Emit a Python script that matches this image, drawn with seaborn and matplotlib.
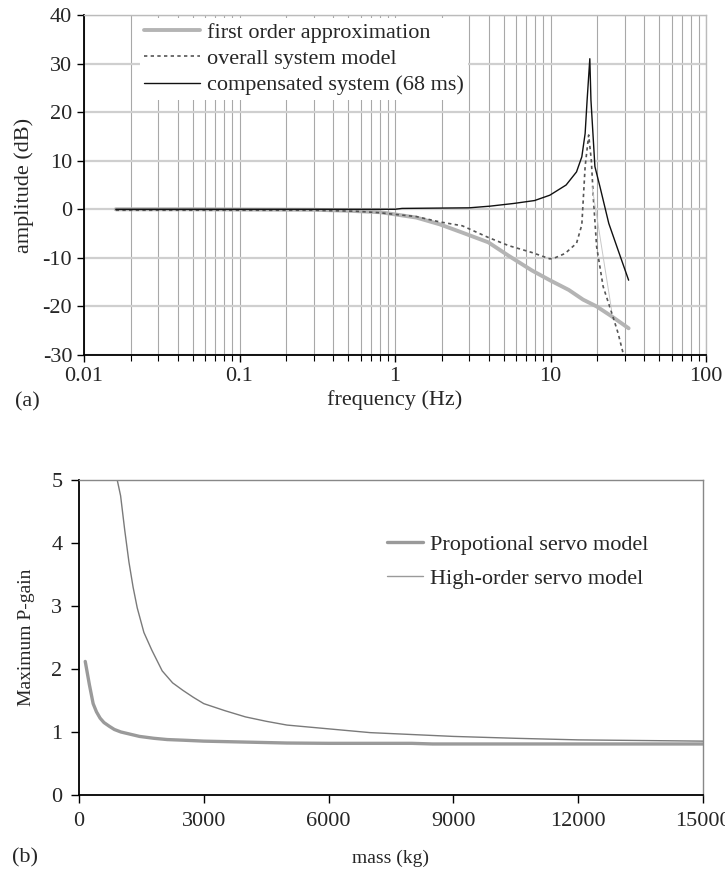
import matplotlib
matplotlib.use("Agg")
import matplotlib.pyplot as plt
import matplotlib.ticker as mticker
import seaborn as sns
import numpy as np

# ---------------- data: (a) frequency response ----------------
freq_first = [0.016, 0.05, 0.1, 0.3, 0.5, 0.8, 1.0, 1.37, 1.94, 2.71, 3.98, 5.4, 7.6,
              9.9, 13.1, 16.2, 19.8, 24.9, 31.8]
amp_first = [0.0, 0.0, -0.05, -0.1, -0.3, -0.6, -1.05, -1.7, -3.1, -4.8, -6.8, -9.6, -12.6,
             -14.6, -16.6, -18.6, -20.0, -22.1, -24.5]

freq_overall = [0.016, 0.1, 0.3, 0.56, 0.79, 1.0, 1.37, 1.94, 2.71, 3.98, 5.4, 7.6, 9.9,
                10.5, 12.4, 14.7, 15.9, 16.7, 17.6, 18.3, 18.9, 19.8, 21.8, 25.2, 27.2, 29.5]
amp_overall = [-0.2, -0.2, -0.2, -0.4, -0.7, -1.05, -1.5, -2.6, -3.4, -5.8, -7.5, -8.9, -10.2,
               -10.1, -9.1, -7.0, -3.2, 8.8, 15.3, 10.1, 1.9, -7.7, -15.9, -22.1, -25.5, -30.0]

freq_comp = [0.016, 0.1, 0.5, 1.0, 1.11, 3.0, 4.1, 5.8, 7.9, 9.9, 12.6, 14.7, 15.9, 16.7,
             17.2, 17.9, 18.2, 19.3, 20.8, 23.7, 27.2, 31.8]
amp_comp = [0.0, 0.0, 0.0, 0.0, 0.18, 0.3, 0.65, 1.2, 1.8, 2.9, 5.0, 7.7, 10.8, 15.6,
            22.5, 31.0, 22.5, 8.8, 4.65, -2.9, -8.4, -14.6]

freq_faint = [18.5, 24.7]
amp_faint = [4.7, -20.7]

freq_ticks = [0.01, 0.1, 1, 10, 100]
freq_ticklabels = ["0.01", "0.1", "1", "10", "100"]
amp_ticks = [-30, -20, -10, 0, 10, 20, 30, 40]

# ---------------- data: (b) maximum P-gain ----------------
mass_prop = [150, 250, 340, 420, 507, 600, 730, 850, 1008, 1200, 1454, 1800, 2122, 2500,
             3000, 4000, 5000, 6000, 8000, 8500, 15000]
gain_prop = [2.12, 1.75, 1.45, 1.32, 1.22, 1.15, 1.09, 1.04, 1.0, 0.97, 0.93, 0.9, 0.88, 0.87,
             0.855, 0.84, 0.825, 0.82, 0.82, 0.81, 0.81]

mass_high = [919, 1000, 1100, 1200, 1300, 1400, 1560, 1750, 2000, 2250, 2500, 2750, 3000,
             3500, 4000, 4500, 5000, 5500, 6000, 7000, 8000, 9000, 10500, 12000, 13500, 15000]
gain_high = [5.0, 4.75, 4.2, 3.7, 3.3, 2.97, 2.58, 2.3, 1.97, 1.78, 1.66, 1.55, 1.45,
             1.34, 1.24, 1.17, 1.11, 1.08, 1.05, 0.99, 0.96, 0.93, 0.9, 0.875, 0.865, 0.855]

mass_ticks = [0, 3000, 6000, 9000, 12000, 15000]
gain_ticks = [0, 1, 2, 3, 4, 5]

# ---------------- style ----------------
sns.set_theme(style="white")
plt.rcParams["font.family"] = ["Liberation Serif", "DejaVu Serif"]
plt.rcParams["axes.unicode_minus"] = False
plt.rcParams["xtick.direction"] = "out"
plt.rcParams["ytick.direction"] = "out"

fig = plt.figure(figsize=(7.25, 8.76), dpi=100)
W, H = 725.0, 876.0

# ---- (a) ----
ax1 = fig.add_axes([84 / W, 1 - 355 / H, (706 - 84) / W, (355 - 15) / H])
ax1.set_xscale("log")
ax1.set_xlim(0.01, 100)
ax1.set_ylim(-30, 40)
ax1.set_yticks(amp_ticks)
ax1.set_xticks(freq_ticks)
ax1.set_xticklabels(freq_ticklabels)
ax1.xaxis.set_minor_locator(mticker.LogLocator(base=10, subs=np.arange(2, 10)))
ax1.xaxis.set_minor_formatter(mticker.NullFormatter())

ax1.grid(True, which="major", axis="y", color="#cfcfcf", lw=1.6, zorder=0)
ax1.grid(True, which="both", axis="x", color="#a8a8a8", lw=0.8, zorder=0)
ax1.set_axisbelow(True)

sns.lineplot(x=freq_first, y=amp_first, ax=ax1, color="#b4b4b4", lw=2.8,
             sort=False, estimator=None, label="first order approximation")
sns.lineplot(x=freq_overall, y=amp_overall, ax=ax1, color="#555555", lw=1.2,
             linestyle=(0, (2, 2)), sort=False, estimator=None, label="overall system model")
sns.lineplot(x=freq_comp, y=amp_comp, ax=ax1, color="#111111", lw=1.0,
             sort=False, estimator=None, label="compensated system (68 ms)")
sns.lineplot(x=freq_faint, y=amp_faint, ax=ax1, color="#c8c8c8", lw=0.7,
             sort=False, estimator=None, legend=False)

for s in ["left", "bottom"]:
    ax1.spines[s].set_color("black")
    ax1.spines[s].set_linewidth(1.3)
for s in ["top", "right"]:
    ax1.spines[s].set_color("#bbbbbb")
    ax1.spines[s].set_linewidth(1.0)
ax1.tick_params(axis="both", which="major", length=5, width=1.0, color="black",
                labelsize=16, bottom=True, left=True)
ax1.tick_params(axis="x", which="minor", length=4, width=0.8, color="black", bottom=True)
ax1.set_xlabel("frequency (Hz)", fontsize=16, labelpad=3)
ax1.set_ylabel("amplitude (dB)", fontsize=16, labelpad=6)

leg1 = ax1.legend(loc="upper left", bbox_to_anchor=(0.09, 0.991), fontsize=16,
                  frameon=True, fancybox=False, framealpha=1.0, facecolor="white",
                  edgecolor="none", handlelength=2.5, handletextpad=0.3,
                  labelspacing=0.25, borderpad=0.2, borderaxespad=0.0)

fig.text(15 / W, 1 - 402 / H, "(a)", fontsize=16, ha="left", va="center")

# ---- (b) ----
ax2 = fig.add_axes([79 / W, 1 - 795 / H, (703 - 79) / W, (795 - 480) / H])
ax2.set_xlim(0, 15000)
ax2.set_ylim(0, 5)
ax2.set_xticks(mass_ticks)
ax2.set_xticklabels([str(t) for t in mass_ticks])
ax2.set_yticks(gain_ticks)
ax2.grid(False)

sns.lineplot(x=mass_prop, y=gain_prop, ax=ax2, color="#9a9a9a", lw=2.4,
             sort=False, estimator=None, label="Propotional servo model")
sns.lineplot(x=mass_high, y=gain_high, ax=ax2, color="#7a7a7a", lw=1.0,
             sort=False, estimator=None, label="High-order servo model")

for s in ["left", "bottom"]:
    ax2.spines[s].set_color("black")
    ax2.spines[s].set_linewidth(1.3)
for s in ["top", "right"]:
    ax2.spines[s].set_color("#888888")
    ax2.spines[s].set_linewidth(1.0)
ax2.tick_params(axis="both", which="major", length=6, width=1.0, color="black",
                labelsize=16, bottom=True, left=True, pad=6)
ax2.set_xlabel("mass (kg)", fontsize=14, labelpad=14)
ax2.set_ylabel("Maximum P-gain", fontsize=14, labelpad=12)

leg2 = ax2.legend(loc="upper left", bbox_to_anchor=(0.462, 0.89), fontsize=16,
                  frameon=False, handlelength=1.6, handletextpad=0.3, labelspacing=0.6)
for h in leg2.get_lines():
    h.set_color("#9a9a9a")

fig.text(12 / W, 1 - 858 / H, "(b)", fontsize=16, ha="left", va="center")

fig.savefig("out.png", dpi=100)
